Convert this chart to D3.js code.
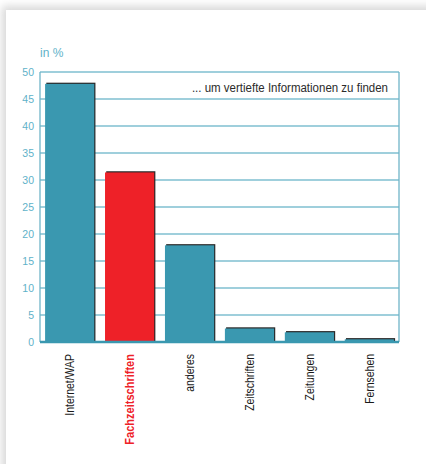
<!DOCTYPE html>
<html>
<head>
<meta charset="utf-8">
<script src="https://cdn.jsdelivr.net/npm/d3@7"></script>
<style>
  body { margin: 0; background: #fff; }
  text { font-family: "Liberation Sans", Arial, sans-serif; }
</style>
</head>
<body>
<div id="chart"></div>
<script>
var categories = ["Internet/WAP", "Fachzeitschriften", "anderes", "Zeitschriften", "Zeitungen", "Fernsehen"];
var values = [47.8, 31.4, 17.9, 2.5, 1.8, 0.5];
var highlight = "Fachzeitschriften";
var yTicks = [0, 5, 10, 15, 20, 25, 30, 35, 40, 45, 50];
var unitLabel = "in %";
var note = "... um vertiefte Informationen zu finden";

var W = 426, H = 464;
var margin = {top: 72, left: 40, right: 27, bottom: 122};
var width = W - margin.left - margin.right,
    height = H - margin.top - margin.bottom;

var svg = d3.select("#chart").append("svg")
    .attr("width", W)
    .attr("height", H);

// card with soft shadow
var defs = svg.append("defs");
defs.append("filter").attr("id", "blur")
    .attr("x", "-10%").attr("y", "-10%").attr("width", "120%").attr("height", "120%")
  .append("feGaussianBlur").attr("stdDeviation", 4);
svg.append("rect").attr("width", W).attr("height", H).attr("fill", "#fff");
svg.append("rect").attr("x", 2).attr("y", 6).attr("width", W + 20).attr("height", H + 20)
    .attr("fill", "#d8d8d8").attr("filter", "url(#blur)");
svg.append("rect").attr("x", 6).attr("y", 10).attr("width", W).attr("height", H)
    .attr("fill", "#fff");

var g = svg.append("g")
    .attr("transform", "translate(" + margin.left + "," + margin.top + ")");

var x = d3.scaleBand()
    .domain(categories)
    .range([0, width])
    .paddingInner(0.18)
    .paddingOuter(0.085);

var y = d3.scaleLinear()
    .domain([0, 50])
    .range([height, 0]);

// gridlines
g.append("g")
  .selectAll("line")
  .data(yTicks.filter(function(d) { return d > 0; }))
  .join("line")
    .attr("x1", 0).attr("x2", width)
    .attr("y1", function(d) { return y(d); })
    .attr("y2", function(d) { return y(d); })
    .attr("stroke", "#7fbfd0")
    .attr("stroke-width", 1.3);

// frame sides
g.append("line").attr("x1", 0).attr("x2", 0).attr("y1", 0).attr("y2", height)
    .attr("stroke", "#6fb4c8").attr("stroke-width", 1.3);
g.append("line").attr("x1", width).attr("x2", width).attr("y1", 0).attr("y2", height)
    .attr("stroke", "#6fb4c8").attr("stroke-width", 1.3);

// y axis labels
var yAxis = g.append("g")
    .call(d3.axisLeft(y).tickValues(yTicks).tickSize(0).tickPadding(6));
yAxis.select(".domain").remove();
yAxis.selectAll("text")
    .attr("fill", "#5fb2c9")
    .style("font-family", "'Liberation Sans', Arial, sans-serif")
    .style("font-size", "10.5px");

svg.append("text")
    .attr("x", margin.left)
    .attr("y", 57)
    .attr("fill", "#5fb2c9")
    .style("font-size", "12px")
    .text(unitLabel);

// bars: dark edge behind, then fill
var bars = g.append("g").selectAll("g")
  .data(categories)
  .join("g");

bars.append("rect")
    .attr("x", function(d) { return x(d) + 1.2; })
    .attr("y", function(d, i) { return y(values[i]) - 1.2; })
    .attr("width", x.bandwidth())
    .attr("height", function(d, i) { return height - y(values[i]) + 1.2; })
    .attr("fill", "#2a2a2a");

bars.append("rect")
    .attr("x", function(d) { return x(d); })
    .attr("y", function(d, i) { return y(values[i]); })
    .attr("width", x.bandwidth())
    .attr("height", function(d, i) { return height - y(values[i]); })
    .attr("fill", function(d) { return d === highlight ? "#ee2128" : "#3a98b0"; });

// bottom axis line
g.append("line").attr("x1", 0).attr("x2", width).attr("y1", height).attr("y2", height)
    .attr("stroke", "#3a98b0").attr("stroke-width", 2.5);

// note (narrow type)
g.append("text")
    .attr("transform", "translate(" + (width - 11) + ",20) scale(0.92,1)")
    .attr("text-anchor", "end")
    .attr("fill", "#2b2b2b")
    .style("font-size", "12.5px")
    .text(note);

// category labels
var xAxis = g.append("g")
    .attr("transform", "translate(0," + height + ")")
    .call(d3.axisBottom(x).tickSize(0).tickPadding(0));
xAxis.select(".domain").remove();
xAxis.selectAll("text")
    .attr("transform", function(d) {
      return "rotate(-90) scale(" + (d === highlight ? 0.92 : 0.87) + ",1)";
    })
    .attr("text-anchor", "end")
    .attr("x", function(d) { return -12 / (d === highlight ? 0.92 : 0.87); })
    .attr("y", 0)
    .attr("dy", "0.35em")
    .style("font-family", "'Liberation Sans', Arial, sans-serif")
    .style("font-size", "12px")
    .style("font-weight", function(d) { return d === highlight ? "bold" : "normal"; })
    .attr("fill", function(d) { return d === highlight ? "#ee2128" : "#1a1a1a"; });
</script>
</body>
</html>
